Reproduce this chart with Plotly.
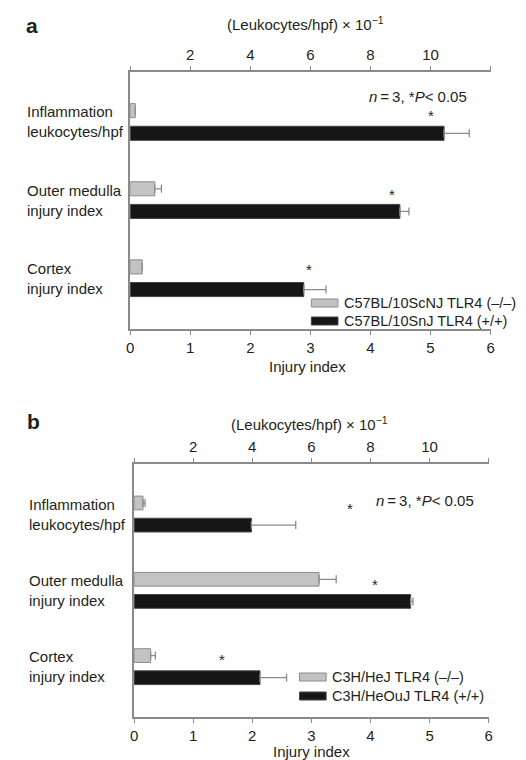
import plotly.graph_objects as go

W, H = 526, 760

# ---------------- data ----------------
categories = ["Inflammation leukocytes/hpf", "Outer medulla injury index", "Cortex injury index"]
category_labels = ["Inflammation<br>leukocytes/hpf", "Outer medulla<br>injury index", "Cortex<br>injury index"]
leuk_categories = categories[:1]
injury_categories = categories[1:]

injury_ticks = [0, 1, 2, 3, 4, 5, 6]
leuk_ticks = [2, 4, 6, 8, 10]
leuk_minor_ticks = [0, 12]

# panel a  (C57BL/10)
a_names = ["C57BL/10ScNJ TLR4 (\u2013/\u2013)", "C57BL/10SnJ TLR4 (+/+)"]
a_ko_leuk, a_ko_leuk_err = [0.17], [0.0]
a_wt_leuk, a_wt_leuk_err = [10.45], [0.84]
a_ko_injury, a_ko_injury_err = [0.41, 0.20], [0.11, 0.0]
a_wt_injury, a_wt_injury_err = [4.49, 2.89], [0.15, 0.37]

# panel b  (C3H)
b_names = ["C3H/HeJ TLR4 (\u2013/\u2013)", "C3H/HeOuJ TLR4 (+/+)"]
b_ko_leuk, b_ko_leuk_err = [0.30], [0.07]
b_wt_leuk, b_wt_leuk_err = [3.97], [1.50]
b_ko_injury, b_ko_injury_err = [3.13, 0.28], [0.29, 0.08]
b_wt_injury, b_wt_injury_err = [4.68, 2.13], [0.04, 0.45]

# ---------------- style ----------------
FONT = "Liberation Sans, Arial, Helvetica, sans-serif"
TXT = "#231f20"
AX = "#8a8a8a"
GREY = "#c3c3c3"
GREY_LINE = "#8c8c8c"
BLACK = "#161616"
ERR = "#8c8c8c"
FS = 15

def px_x(p):
    return p / W

def px_y(p):
    return 1 - p / H

fig = go.Figure()

def bars(x, err, y, color, line, offset, xaxis, yaxis):
    fig.add_trace(go.Bar(
        x=x, y=y, orientation="h", offset=offset, width=0.18,
        marker=dict(color=color, line=dict(color=line, width=1)),
        error_x=dict(type="data", array=err, arrayminus=[0] * len(err), symmetric=False,
                     color=ERR, thickness=1.3, width=4),
        xaxis=xaxis, yaxis=yaxis, showlegend=False, hoverinfo="skip"))

G_OFF, B_OFF = -0.235, 0.055

# panel a
bars(a_ko_leuk, a_ko_leuk_err, leuk_categories, GREY, GREY_LINE, G_OFF, "x3", "y")
bars(a_wt_leuk, a_wt_leuk_err, leuk_categories, BLACK, "#444444", B_OFF, "x3", "y")
bars(a_ko_injury, a_ko_injury_err, injury_categories, GREY, GREY_LINE, G_OFF, "x", "y")
bars(a_wt_injury, a_wt_injury_err, injury_categories, BLACK, "#444444", B_OFF, "x", "y")
# panel b
bars(b_ko_leuk, b_ko_leuk_err, leuk_categories, GREY, GREY_LINE, G_OFF, "x4", "y2")
bars(b_wt_leuk, b_wt_leuk_err, leuk_categories, BLACK, "#444444", B_OFF, "x4", "y2")
bars(b_ko_injury, b_ko_injury_err, injury_categories, GREY, GREY_LINE, G_OFF, "x2", "y2")
bars(b_wt_injury, b_wt_injury_err, injury_categories, BLACK, "#444444", B_OFF, "x2", "y2")

tickfont = dict(family=FONT, size=FS, color=TXT)
common_x = dict(showline=True, linecolor=AX, linewidth=1.5, ticks="outside", ticklen=4,
                tickcolor=AX, tickwidth=1.3, showgrid=False, zeroline=False, tickfont=tickfont)
top_minor = dict(tickvals=leuk_minor_ticks, ticks="outside", ticklen=4, tickcolor=AX,
                 tickwidth=1.3, showgrid=False)

xa_dom = [px_x(120), px_x(486)]
xb_dom = [px_x(124), px_x(484)]

fig.update_layout(
    width=W, height=H, margin=dict(l=0, r=0, t=0, b=0),
    paper_bgcolor="white", plot_bgcolor="white",
    barmode="overlay",
    font=dict(family=FONT, size=FS, color=TXT),
    xaxis=dict(domain=xa_dom, anchor="y", range=[0, 6], tickvals=injury_ticks, **common_x),
    xaxis3=dict(overlaying="x", anchor="y", side="top", range=[0, 12], tickvals=leuk_ticks,
                minor=top_minor, **common_x),
    xaxis2=dict(domain=xb_dom, anchor="y2", range=[0, 6], tickvals=injury_ticks, **common_x),
    xaxis4=dict(overlaying="x2", anchor="y2", side="top", range=[0, 12], tickvals=leuk_ticks,
                minor=top_minor, **common_x),
    yaxis=dict(domain=[px_y(321), px_y(64)], anchor="x", type="category",
               categoryarray=categories, range=[2.65, -0.64], showline=True, linecolor=AX,
               linewidth=1.5, ticks="", showticklabels=False, showgrid=False, zeroline=False),
    yaxis2=dict(domain=[px_y(709), px_y(456)], anchor="x2", type="category",
                categoryarray=categories, range=[2.66, -0.656], showline=True, linecolor=AX,
                linewidth=1.5, ticks="", showticklabels=False, showgrid=False, zeroline=False),
)

ann = []
def text(x, y, s, xref="paper", yref="paper", xanchor="center", size=FS, align="center"):
    ann.append(dict(x=x, y=y, xref=xref, yref=yref, text=s, showarrow=False,
                    xanchor=xanchor, yanchor="middle", align=align,
                    font=dict(family=FONT, size=size, color=TXT)))

# panel letters and top axis titles
text(px_x(12), px_y(18), "<b>a</b>", xanchor="left", size=21)
text(px_x(13), px_y(413), "<b>b</b>", xanchor="left", size=21)
top_title = "(Leukocytes/hpf) \u00d7 10<sup>\u22121</sup>"
text(px_x(298), px_y(16), top_title)
text(px_x(302), px_y(415), top_title)
# bottom axis titles
text(px_x(300), px_y(358), "Injury index")
text(px_x(304), px_y(743), "Injury index")
# category labels
for lab, cat in zip(category_labels, categories):
    text(px_x(13), cat, lab, yref="y", xanchor="left", align="left")
    text(px_x(15), cat, lab, yref="y2", xanchor="left", align="left")
# statistics note
note = "<i>n</i>\u2009=\u20093, *<i>P</i>< 0.05"
text(px_x(360), px_y(89), note, xanchor="left")
text(px_x(368), px_y(492), note, xanchor="left")

fig.update_layout(annotations=ann)

# significance asterisks (data coordinates)
def star(x, cat, dy, xref, yref):
    fig.add_annotation(x=x, y=categories.index(cat) + dy, xref=xref, yref=yref, text="*",
                       showarrow=False, font=dict(family=FONT, size=FS, color=TXT),
                       xanchor="center", yanchor="middle")

star(10.0, categories[0], -0.08, "x3", "y")
star(4.36, categories[1], -0.07, "x", "y")
star(2.97, categories[2], -0.11, "x", "y")
star(7.3, categories[0], -0.07, "x4", "y2")
star(4.07, categories[1], -0.08, "x2", "y2")
star(1.48, categories[2], -0.09, "x2", "y2")

# manual legends
LFS = 14.5
def legend(x0, rows, names):
    for (ytop, ybot, ytext), name, col, lc in zip(rows, names, [GREY, BLACK], [GREY_LINE, "#444444"]):
        fig.add_shape(type="rect", xref="paper", yref="paper",
                      x0=px_x(x0), x1=px_x(x0 + 27), y0=px_y(ybot), y1=px_y(ytop),
                      fillcolor=col, line=dict(color=lc, width=1))
        fig.add_annotation(x=px_x(x0 + 31), y=px_y(ytext), xref="paper", yref="paper",
                           text=name, showarrow=False, xanchor="left", yanchor="middle",
                           font=dict(family=FONT, size=LFS, color=TXT))

legend(304, [(291, 299, 295), (309, 317, 313)], a_names)
legend(292, [(665, 673, 669), (684, 692, 688)], b_names)

fig.write_html("out.html")
